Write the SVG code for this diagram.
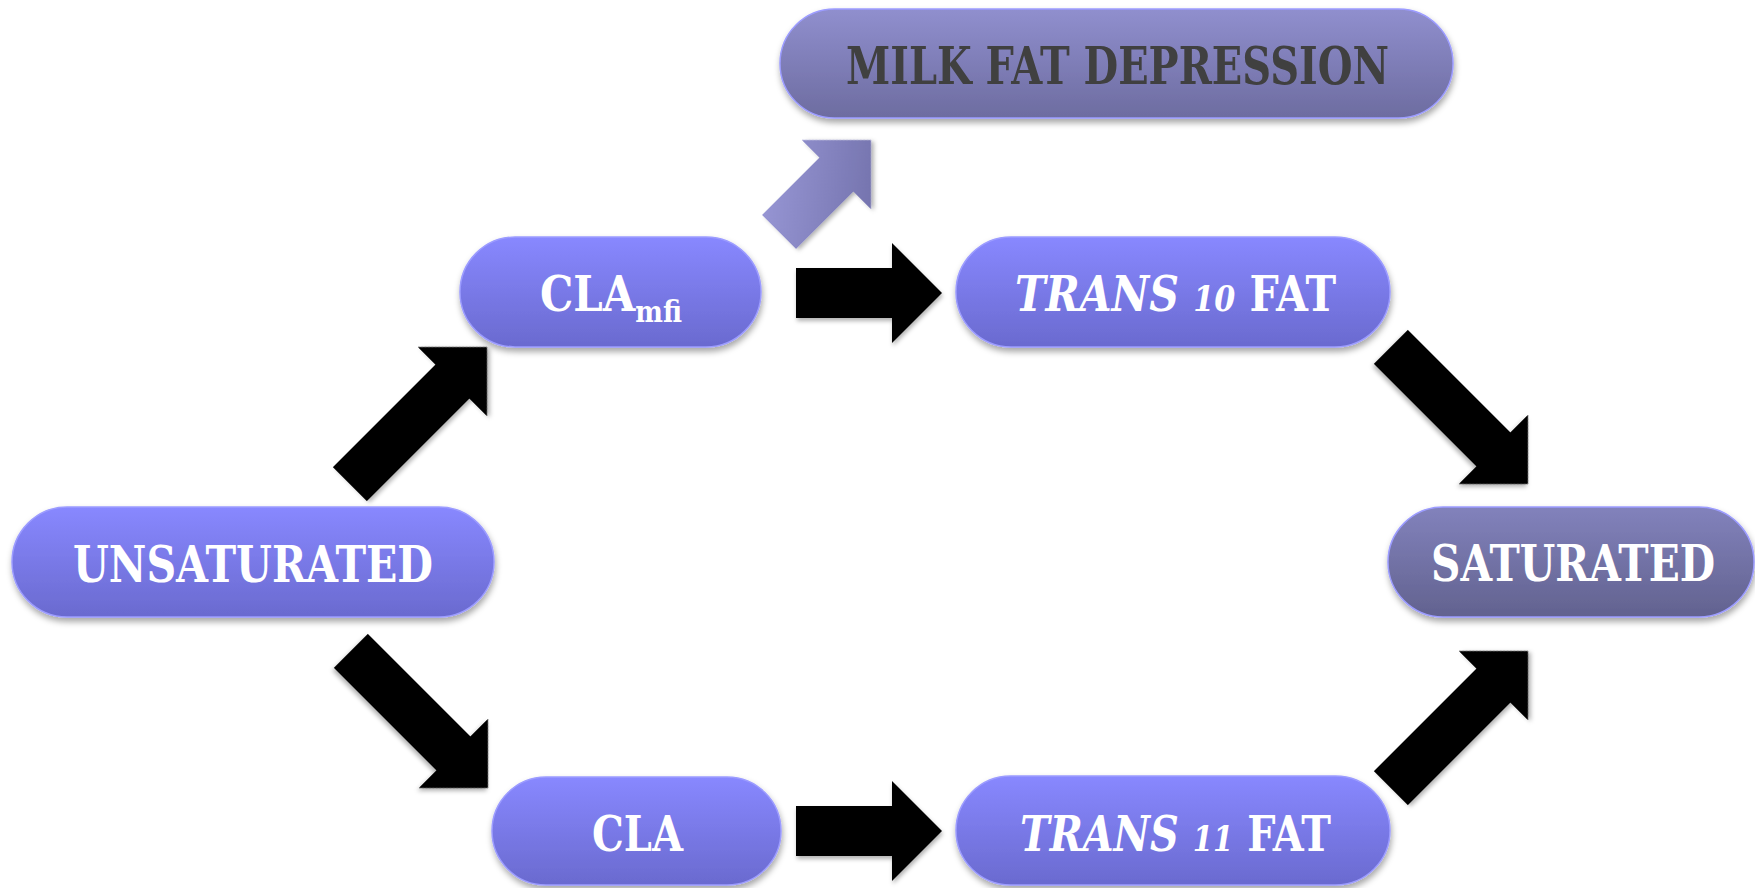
<svg xmlns="http://www.w3.org/2000/svg" width="1755" height="888" viewBox="0 0 1755 888">
  <defs>
    <linearGradient id="gBlue" x1="0" y1="0" x2="0" y2="1">
      <stop offset="0" stop-color="#8888FF"/>
      <stop offset="1" stop-color="#6A6ACF"/>
    </linearGradient>
    <linearGradient id="gSat" x1="0" y1="0" x2="0" y2="1">
      <stop offset="0" stop-color="#8282BC"/>
      <stop offset="1" stop-color="#62628F"/>
    </linearGradient>
    <linearGradient id="gMfd" x1="0" y1="0" x2="0" y2="1">
      <stop offset="0" stop-color="#908FCE"/>
      <stop offset="1" stop-color="#6D6CA0"/>
    </linearGradient>
    <linearGradient id="gArr" x1="0" y1="0" x2="1" y2="1">
      <stop offset="0" stop-color="#9C9BDA"/>
      <stop offset="1" stop-color="#6C6BA4"/>
    </linearGradient>
    <filter id="sh" x="-10%" y="-20%" width="120%" height="160%">
      <feDropShadow dx="1" dy="4" stdDeviation="3" flood-color="#000" flood-opacity="0.35"/>
    </filter>
    <filter id="ash" x="-20%" y="-20%" width="140%" height="140%">
      <feDropShadow dx="1" dy="3" stdDeviation="2" flood-color="#000" flood-opacity="0.3"/>
    </filter>
    <path id="diag" d="M0,0 L-49,-49 L-49,-24 L-194,-24 L-194,24 L-49,24 L-49,49 Z"/>
  </defs>
  <style>
    .pill { stroke: #9C9CFF; stroke-width: 1.5; filter: url(#sh); }
    .lbl { font-family: "DejaVu Serif", "Liberation Serif", serif; font-weight: bold; font-stretch: condensed; fill: #FFFFFF; text-anchor: middle; }
    .it { font-style: italic; }
    .arrow { fill: #000000; filter: url(#ash); }
  </style>

  <g id="connectors">
    <path class="arrow" d="M942,293 L892,243 L892,268 L796,268 L796,318 L892,318 L892,343 Z"/>
    <path class="arrow" d="M942,831 L892,781 L892,806 L796,806 L796,856 L892,856 L892,881 Z"/>
    <use class="arrow" href="#diag" transform="translate(487,347) rotate(-45)"/>
    <use class="arrow" href="#diag" transform="translate(488,788) rotate(45)"/>
    <use class="arrow" href="#diag" transform="translate(1528,484) rotate(45)"/>
    <use class="arrow" href="#diag" transform="translate(1528,651) rotate(-45)"/>
    <path d="M0,0 L-49,-49 L-49,-24 L-130,-24 L-130,24 L-49,24 L-49,49 Z" fill="url(#gArr)" filter="url(#ash)" transform="translate(871,140) rotate(-45)"/>
  </g>

  <g id="node-mfd">
    <rect class="pill" x="780" y="9" width="673" height="109" rx="54.5" fill="url(#gMfd)" stroke="#9A9AD8"/>
    <text class="lbl" x="1117.5" y="84" font-size="52" textLength="543" lengthAdjust="spacingAndGlyphs" style="fill:#404040">MILK FAT DEPRESSION</text>
  </g>

  <g id="node-clamfi">
    <rect class="pill" x="460" y="237" width="301" height="110" rx="55" fill="url(#gBlue)"/>
    <text class="lbl" x="611" y="311" font-size="48" textLength="142" lengthAdjust="spacingAndGlyphs">CLA<tspan font-size="30" dy="11">mfi</tspan></text>
  </g>

  <g id="node-trans10">
    <rect class="pill" x="956" y="237" width="434" height="110" rx="55" fill="url(#gBlue)"/>
    <text class="lbl" x="1175.5" y="311" font-size="49" textLength="321" lengthAdjust="spacingAndGlyphs"><tspan class="it">TRANS</tspan> <tspan class="it" font-size="36">10</tspan> FAT</text>
  </g>

  <g id="node-unsaturated">
    <rect class="pill" x="12" y="507" width="482" height="110" rx="55" fill="url(#gBlue)"/>
    <text class="lbl" x="253" y="582" font-size="50" textLength="360" lengthAdjust="spacingAndGlyphs">UNSATURATED</text>
  </g>

  <g id="node-saturated">
    <rect class="pill" x="1388" y="507" width="366" height="110" rx="55" fill="url(#gSat)" stroke="#8E8EC8"/>
    <text class="lbl" x="1573" y="581" font-size="50" textLength="284" lengthAdjust="spacingAndGlyphs">SATURATED</text>
  </g>

  <g id="node-cla">
    <rect class="pill" x="492" y="777" width="289" height="108" rx="54" fill="url(#gBlue)"/>
    <text class="lbl" x="637.5" y="851" font-size="49" textLength="91" lengthAdjust="spacingAndGlyphs">CLA</text>
  </g>

  <g id="node-trans11">
    <rect class="pill" x="956" y="776" width="434" height="109" rx="54.5" fill="url(#gBlue)"/>
    <text class="lbl" x="1175.5" y="851" font-size="49" textLength="311" lengthAdjust="spacingAndGlyphs"><tspan class="it">TRANS</tspan> <tspan class="it" font-size="36">11</tspan> FAT</text>
  </g>
</svg>
